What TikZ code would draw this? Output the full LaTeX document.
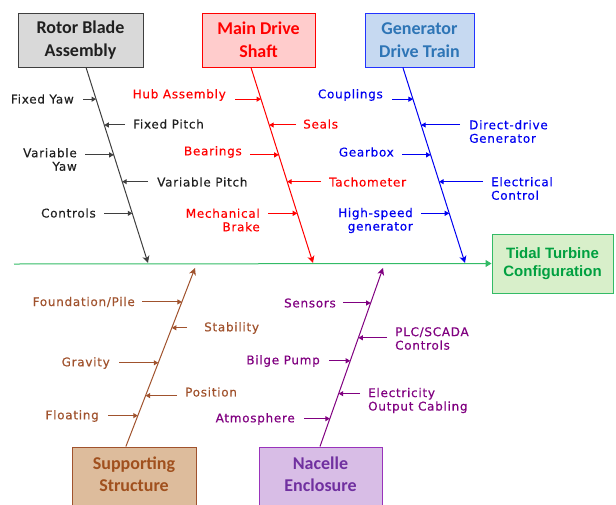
\documentclass[tikz,border=0pt]{standalone}
\usepackage{fontspec}
\setmainfont{DejaVu Sans}
\newfontfamily\lblfont[LetterSpace=6,FakeBold=0.4]{DejaVu Sans}
\newfontfamily\hdfont{Carlito}
\newfontfamily\tdfont{Liberation Sans}
\usetikzlibrary{arrows.meta,calc}
\definecolor{rotfill}{HTML}{D9D9D9}
\definecolor{rotdraw}{HTML}{3F3F3F}
\definecolor{rottext}{HTML}{1F1F1F}
\definecolor{mainfill}{HTML}{FFCCCC}
\definecolor{mred}{HTML}{FF0000}
\definecolor{genfill}{HTML}{C6D9F1}
\definecolor{gendraw}{HTML}{2233FF}
\definecolor{gentext}{HTML}{2E75B6}
\definecolor{gblue}{HTML}{0000F0}
\definecolor{tfill}{HTML}{D8EFCA}
\definecolor{tline}{HTML}{33BB66}
\definecolor{ttext}{HTML}{00A040}
\definecolor{supfill}{HTML}{DDBC9C}
\definecolor{supdraw}{HTML}{A0522D}
\definecolor{suptext}{HTML}{A0501E}
\definecolor{nacfill}{HTML}{D8BDE6}
\definecolor{nacdraw}{HTML}{9933BB}
\definecolor{nactext}{HTML}{7030A0}
\definecolor{nacline}{HTML}{800080}
\tikzset{
  hbox/.style={draw, line width=1pt, minimum height=54pt, align=center, inner sep=0pt,
    font=\hdfont\bfseries\fontsize{18}{23}\selectfont},
  htext/.style={align=center, inner sep=0pt, font=\hdfont\bfseries\fontsize{18}{22.5}\selectfont},
  lbl/.style={inner sep=0pt, font=\lblfont\fontsize{12}{13.5}\selectfont},
  sarr/.style={-{Triangle[length=4.5pt,width=5pt]}, line width=1pt},
  bone/.style={-{Stealth[length=7pt,width=7pt,inset=2pt]}, line width=1pt},
}
\begin{document}
\begin{tikzpicture}[x=1pt,y=-1pt]
\useasboundingbox (0,0) rectangle (616,504);
\begin{scope}
\clip (0,0) rectangle (616,504);
% header boxes
\node[hbox, fill=rotfill, draw=rotdraw, text=rottext, minimum width=125pt] (rot) at (80.5,40) {Rotor Blade\\Assembly};
\node[hbox, fill=mainfill, draw=mred, text=mred, minimum width=113pt] (main) at (258.5,40) {Main Drive\\Shaft};
\node[hbox, fill=genfill, draw=gendraw, text=gentext, minimum width=109pt] (gen) at (419.5,40) {Generator\\Drive Train};
\node[draw=tline, fill=tfill, text=ttext, line width=1pt, minimum width=121pt, minimum height=59pt, align=center, inner sep=0pt,
  font=\tdfont\bfseries\fontsize{15}{18}\selectfont] (tidal) at (552.5,263.5) {Tidal Turbine\\Configuration};
\node[draw=supdraw, fill=supfill, line width=1pt, minimum width=124pt, minimum height=62pt, inner sep=0pt] (sup) at (134,478) {};
\node[htext, text=suptext] (supT) at (134,474) {Supporting\\Structure};
\node[draw=nacdraw, fill=nacfill, line width=1pt, minimum width=123pt, minimum height=62pt, inner sep=0pt] (nac) at (320.5,478) {};
\node[htext, text=nactext] (nacT) at (320.5,474) {Nacelle\\Enclosure};
\end{scope}
% spine
\coordinate (sL) at (14,264);
\draw[tline, line width=1pt, -{Triangle[length=6pt,width=7pt]}] (sL) -- (tidal.west);
% bone coordinates
\coordinate (rS) at ($(rot.south west)!0.544!(rot.south east)$);
\coordinate (rE) at (148,263);
\coordinate (mS) at ($(main.south west)!0.434!(main.south east)$);
\coordinate (mE) at (313,263);
\coordinate (gS) at ($(gen.south west)!0.349!(gen.south east)$);
\coordinate (gE) at (465,263);
\coordinate (sS) at ($(sup.north west)!0.435!(sup.north east)$);
\coordinate (sE) at (195,268);
\coordinate (nS) at ($(nac.north west)!0.496!(nac.north east)$);
\coordinate (nE) at (383,268);
\draw[bone, rotdraw] (rS) -- (rE);
\draw[bone, mred] (mS) -- (mE);
\draw[bone, gblue] (gS) -- (gE);
\draw[bone, supdraw] (sS) -- (sE);
\draw[bone, nacline] (nS) -- (nE);
\path (rS) -- (rE) coordinate[pos=0.162] (r1) coordinate[pos=0.294] (r2) coordinate[pos=0.447] (r3) coordinate[pos=0.584] (r4) coordinate[pos=0.746] (r5);
\path (mS) -- (mE) coordinate[pos=0.162] (m1) coordinate[pos=0.294] (m2) coordinate[pos=0.447] (m3) coordinate[pos=0.584] (m4) coordinate[pos=0.746] (m5);
\path (gS) -- (gE) coordinate[pos=0.162] (g1) coordinate[pos=0.294] (g2) coordinate[pos=0.447] (g3) coordinate[pos=0.584] (g4) coordinate[pos=0.746] (g5);
\path (sS) -- (sE) coordinate[pos=0.810] (s1) coordinate[pos=0.665] (s2) coordinate[pos=0.469] (s3) coordinate[pos=0.285] (s4) coordinate[pos=0.173] (s5);
\path (nS) -- (nE) coordinate[pos=0.804] (n1) coordinate[pos=0.609] (n2) coordinate[pos=0.480] (n3) coordinate[pos=0.296] (n4) coordinate[pos=0.156] (n5);
% rotor labels
\begin{scope}[every node/.style={lbl, text=rottext}, rotdraw]
\node[anchor=east] (ra) at (74,99) {Fixed Yaw};
\draw[sarr] ($(ra.east|-r1)+(9,0)$) -- (r1);
\node[anchor=west] (rb) at (133,124) {Fixed Pitch};
\draw[sarr] ($(rb.west|-r2)+(-8,0)$) -- (r2);
\node[anchor=east, align=right] (rc) at (77,159.5) {Variable\\Yaw};
\draw[sarr] ($(rc.east|-r3)+(8,0)$) -- (r3);
\node[anchor=west] (rd) at (157,182) {Variable Pitch};
\draw[sarr] ($(rd.west|-r4)+(-9,0)$) -- (r4);
\node[anchor=east] (re) at (96,213) {Controls};
\draw[sarr] ($(re.east|-r5)+(8,0)$) -- (r5);
\end{scope}
% main drive labels
\begin{scope}[every node/.style={lbl, text=mred}, mred]
\node[anchor=east] (ma) at (226,95) {Hub Assembly};
\draw[sarr] ($(ma.east|-m1)+(9,0)$) -- (m1);
\node[anchor=west] (mb) at (303,124) {Seals};
\draw[sarr] ($(mb.west|-m2)+(-7,0)$) -- (m2);
\node[anchor=east] (mc) at (242,152) {Bearings};
\draw[sarr] ($(mc.east|-m3)+(8,0)$) -- (m3);
\node[anchor=west] (md) at (329,182) {Tachometer};
\draw[sarr] ($(md.west|-m4)+(-8,0)$) -- (m4);
\node[anchor=east, align=right] (me) at (260,220) {Mechanical\\Brake};
\draw[sarr] ($(me.east|-m5)+(8,0)$) -- (m5);
\end{scope}
% generator labels
\begin{scope}[every node/.style={lbl, text=gblue}, gblue]
\node[anchor=east] (ga) at (383,95) {Couplings};
\draw[sarr] ($(ga.east|-g1)+(9,0)$) -- (g1);
\node[anchor=west, align=left] (gb) at (469,131.5) {Direct-drive\\Generator};
\draw[sarr] ($(gb.west|-g2)+(-9,0)$) -- (g2);
\node[anchor=east] (gc) at (394,152) {Gearbox};
\draw[sarr] ($(gc.east|-g3)+(8,0)$) -- (g3);
\node[anchor=west, align=left] (gd) at (491,188.5) {Electrical\\Control};
\draw[sarr] ($(gd.west|-g4)+(-8,0)$) -- (g4);
\node[anchor=east, align=right] (ge) at (413,220.5) {High-speed\\generator};
\draw[sarr] ($(ge.east|-g5)+(8,0)$) -- (g5);
\end{scope}
% supporting labels
\begin{scope}[every node/.style={lbl, text=supdraw}, supdraw]
\node[anchor=east] (sa) at (135,302) {Foundation/Pile};
\draw[sarr] ($(sa.east|-s1)+(7,0)$) -- (s1);
\node[anchor=west] (sb) at (204,328) {Stability};
\draw[sarr] ($(sb.west|-s2)+(-17,0)$) -- (s2);
\node[anchor=east] (sc) at (110,363) {Gravity};
\draw[sarr] ($(sc.east|-s3)+(9,0)$) -- (s3);
\node[anchor=west] (sd) at (185,392) {Position};
\draw[sarr] ($(sd.west|-s4)+(-8,0)$) -- (s4);
\node[anchor=east] (se) at (99,416) {Floating};
\draw[sarr] ($(se.east|-s5)+(9,0)$) -- (s5);
\end{scope}
% nacelle labels
\begin{scope}[every node/.style={lbl, text=nacline}, nacline]
\node[anchor=east] (na) at (336,303) {Sensors};
\draw[sarr] ($(na.east|-n1)+(7,0)$) -- (n1);
\node[anchor=west, align=left] (nb) at (395,338.5) {PLC/SCADA\\Controls};
\draw[sarr] ($(nb.west|-n2)+(-8,0)$) -- (n2);
\node[anchor=east] (nc) at (320,361) {Bilge Pump};
\draw[sarr] ($(nc.east|-n3)+(9,0)$) -- (n3);
\node[anchor=west, align=left] (nd) at (368,400.5) {Electricity\\Output Cabling};
\draw[sarr] ($(nd.west|-n4)+(-8,0)$) -- (n4);
\node[anchor=east] (ne) at (295,419) {Atmosphere};
\draw[sarr] ($(ne.east|-n5)+(9,0)$) -- (n5);
\end{scope}
\end{tikzpicture}
\end{document}
